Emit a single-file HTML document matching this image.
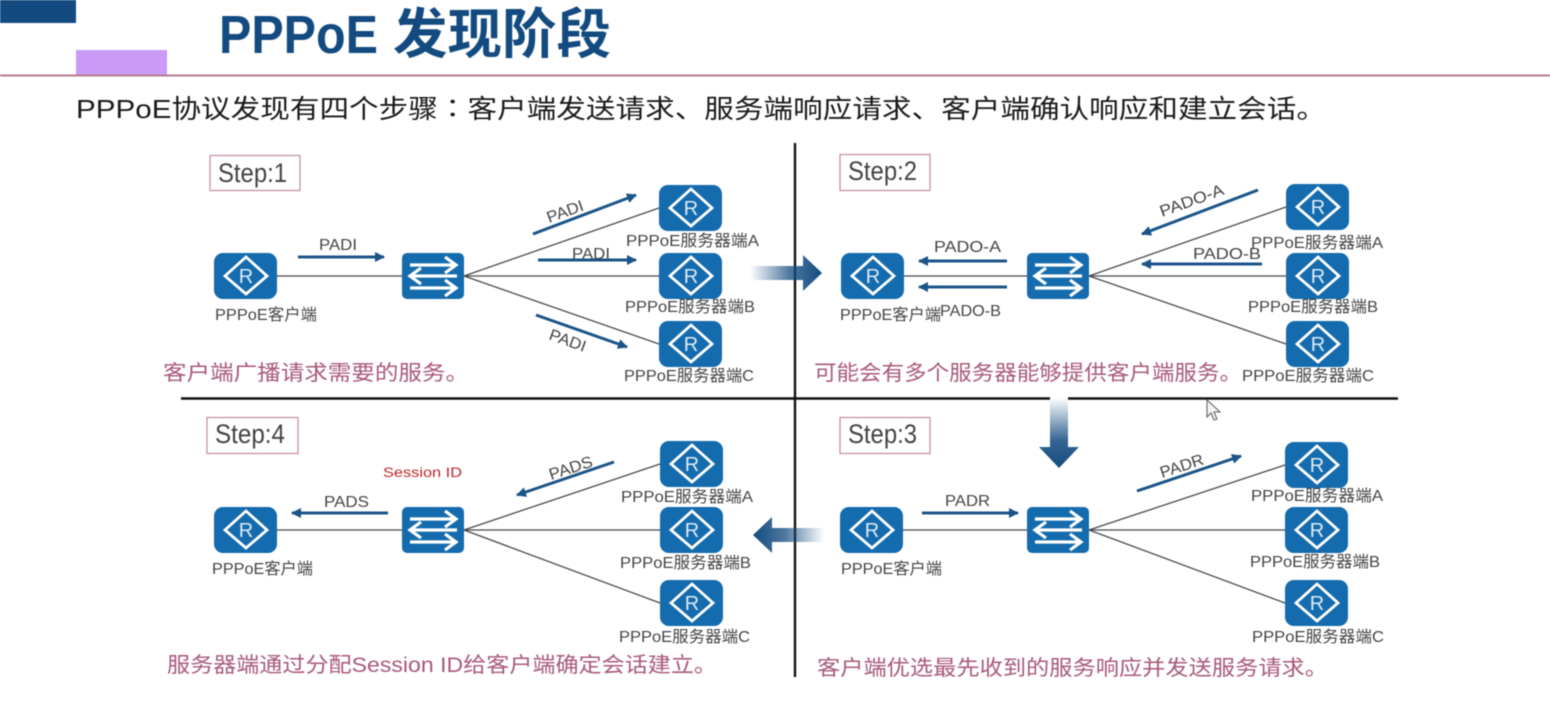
<!DOCTYPE html>
<html><head><meta charset="utf-8"><title>PPPoE 发现阶段</title>
<style>
html,body{margin:0;padding:0;background:#fff;width:1550px;height:710px;overflow:hidden}
svg{display:block;filter:blur(.6px)}
text{font-family:"Liberation Sans","Noto Sans CJK SC",sans-serif}
.l{font-size:16px;fill:#444}
.p{font-size:16px;fill:#444}
.d{font-size:21px;fill:#a8597c}
.s{font-size:27px;fill:#444}
.c{stroke:#4a4a4a;stroke-width:1.3;fill:none}
.a{stroke:#1a5488;stroke-width:3;fill:none;marker-end:url(#ah)}
.x{stroke:#111;stroke-width:2.4}
.b{fill:#fff;stroke:#c48a9e;stroke-width:1.2}
</style></head><body>
<svg width="1550" height="710" viewBox="0 0 1550 710" xmlns="http://www.w3.org/2000/svg">
<defs>
<marker id="ah" markerUnits="userSpaceOnUse" markerWidth="11" markerHeight="11" refX="9" refY="5" orient="auto"><path d="M0 0L10 5L0 10Z" fill="#1a5488"/></marker>
<linearGradient id="gr" x1="0" x2="1" y1="0" y2="0"><stop offset="0" stop-color="#134b80" stop-opacity="0"/><stop offset=".55" stop-color="#134b80" stop-opacity=".75"/><stop offset="1" stop-color="#134b80"/></linearGradient>
<linearGradient id="gl" x1="1" x2="0" y1="0" y2="0"><stop offset="0" stop-color="#134b80" stop-opacity="0"/><stop offset=".55" stop-color="#134b80" stop-opacity=".75"/><stop offset="1" stop-color="#134b80"/></linearGradient>
<linearGradient id="gd" x1="0" x2="0" y1="0" y2="1"><stop offset="0" stop-color="#134b80" stop-opacity="0"/><stop offset=".6" stop-color="#134b80" stop-opacity=".85"/><stop offset="1" stop-color="#134b80"/></linearGradient>
<symbol id="r" width="63" height="46" viewBox="0 0 63 46">
<rect width="63" height="46" rx="9" fill="#146bad"/>
<path d="M32 4L53 23L32 41L11 23Z" fill="none" stroke="#fff" stroke-width="2.8"/>
<text x="32" y="30" text-anchor="middle" style="font-size:20px;fill:#dcebf6">R</text>
</symbol>
<symbol id="w" width="62" height="46" viewBox="0 0 62 46">
<rect width="62" height="46" rx="5" fill="#146bad"/>
<g fill="none" stroke="#fff" stroke-width="3.2">
<path d="M8 12H52M43 4L54 12L43 20"/>
<path d="M55 23H10M19 15L8 23L19 31"/>
<path d="M8 35H52M43 27L54 35L43 43"/>
</g>
</symbol>
</defs>

<rect width="1550" height="710" fill="#fff"/>
<rect x="0" y="0" width="76" height="23" fill="#134b80"/>
<rect x="76" y="50" width="91" height="26" fill="#c99bf5"/>
<rect x="0" y="74.5" width="1550" height="2" fill="#b67a90"/>
<text x="219" y="53" textLength="159" lengthAdjust="spacingAndGlyphs" style="font-size:54px;font-weight:700;fill:#134b80">PPPoE</text>
<text x="393" y="53" textLength="218" lengthAdjust="spacingAndGlyphs" style="font-size:54px;font-weight:700;fill:#134b80">发现阶段</text>
<text x="76" y="118" textLength="1250" lengthAdjust="spacingAndGlyphs" style="font-size:26px;fill:#1a1a1a">PPPoE协议发现有四个步骤<tspan style="font-family:'Noto Sans CJK TC',sans-serif">：</tspan>客户端发送请求、服务端响应请求、客户端确认响应和建立会话。</text>

<!-- dividers -->
<line class="x" x1="795" y1="143" x2="795" y2="677"/>
<line class="x" x1="181" y1="398.500" x2="1050" y2="398.500"/>
<line class="x" x1="1068" y1="398.500" x2="1398" y2="398.500"/>

<!-- step boxes -->
<rect class="b" x="210" y="155.500" width="90" height="35"/><text class="s" x="218" y="182" textLength="69" lengthAdjust="spacingAndGlyphs">Step:1</text>
<rect class="b" x="840" y="154.500" width="90" height="36"/><text class="s" x="848" y="180" textLength="69" lengthAdjust="spacingAndGlyphs">Step:2</text>
<rect class="b" x="840" y="417.500" width="90" height="36"/><text class="s" x="848" y="443" textLength="69" lengthAdjust="spacingAndGlyphs">Step:3</text>
<rect class="b" x="207" y="417.500" width="91" height="36"/><text class="s" x="215" y="443" textLength="70" lengthAdjust="spacingAndGlyphs">Step:4</text>

<!-- connectors -->
<g class="c">
<path d="M277 276H402M464 276L659 208M464 276H659M464 276L659 344"/>
<path d="M903 276H1027M1089 276L1286 207M1089 276H1286M1089 276L1286 344"/>
<path d="M902 530H1027M1089 530L1285 465M1089 530H1285M1089 530L1285 603"/>
<path d="M277 530H402M464 530L660 464M464 530H660M464 530L660 603"/>
</g>

<!-- Step 1 -->
<use href="#r" x="214" y="253"/><use href="#w" x="402" y="253"/>
<use href="#r" x="659" y="185"/><use href="#r" x="659" y="253"/><use href="#r" x="659" y="321"/>
<text class="l" x="215" y="320" textLength="102" lengthAdjust="spacingAndGlyphs">PPPoE客户端</text>
<text class="l" x="626" y="246" textLength="133" lengthAdjust="spacingAndGlyphs">PPPoE服务器端A</text>
<text class="l" x="625" y="312" textLength="130" lengthAdjust="spacingAndGlyphs">PPPoE服务器端B</text>
<text class="l" x="624" y="381" textLength="130" lengthAdjust="spacingAndGlyphs">PPPoE服务器端C</text>
<path class="a" d="M298 257H384"/><text class="p" x="319" y="250" textLength="38" lengthAdjust="spacingAndGlyphs">PADI</text>
<path class="a" d="M533 234L636 195"/><text class="p" transform="translate(549 223) rotate(-20)" textLength="38" lengthAdjust="spacingAndGlyphs">PADI</text>
<path class="a" d="M538 260H636"/><text class="p" x="572" y="259" textLength="38" lengthAdjust="spacingAndGlyphs">PADI</text>
<path class="a" d="M536 315L627 347"/><text class="p" transform="translate(548 339) rotate(20)" textLength="38" lengthAdjust="spacingAndGlyphs">PADI</text>
<text class="d" x="163" y="380" textLength="306" lengthAdjust="spacingAndGlyphs">客户端广播请求需要的服务。</text>

<!-- Step 2 -->
<use href="#r" x="841" y="253"/><use href="#w" x="1027" y="253"/>
<use href="#r" x="1286" y="184"/><use href="#r" x="1286" y="253"/><use href="#r" x="1286" y="321"/>
<text class="l" x="840" y="320" textLength="101" lengthAdjust="spacingAndGlyphs">PPPoE客户端</text>
<text class="l" x="1251" y="248" textLength="132" lengthAdjust="spacingAndGlyphs">PPPoE服务器端A</text>
<text class="l" x="1248" y="312" textLength="130" lengthAdjust="spacingAndGlyphs">PPPoE服务器端B</text>
<text class="l" x="1242" y="381" textLength="132" lengthAdjust="spacingAndGlyphs">PPPoE服务器端C</text>
<path class="a" d="M1007 261H919"/><text class="p" x="934" y="252" textLength="67" lengthAdjust="spacingAndGlyphs">PADO-A</text>
<path class="a" d="M1007 287H919"/><text class="p" x="940" y="316" textLength="61" lengthAdjust="spacingAndGlyphs">PADO-B</text>
<path class="a" d="M1258 190L1142 234"/><text class="p" transform="translate(1162 217) rotate(-20)" textLength="67" lengthAdjust="spacingAndGlyphs">PADO-A</text>
<path class="a" d="M1262 264H1142"/><text class="p" x="1193" y="259" textLength="68" lengthAdjust="spacingAndGlyphs">PADO-B</text>
<text class="d" x="814" y="380" textLength="428" lengthAdjust="spacingAndGlyphs">可能会有多个服务器能够提供客户端服务。</text>

<!-- Step 3 -->
<use href="#r" x="840" y="507"/><use href="#w" x="1027" y="507"/>
<use href="#r" x="1285" y="442"/><use href="#r" x="1285" y="507"/><use href="#r" x="1285" y="580"/>
<text class="l" x="841" y="574" textLength="101" lengthAdjust="spacingAndGlyphs">PPPoE客户端</text>
<text class="l" x="1251" y="501" textLength="132" lengthAdjust="spacingAndGlyphs">PPPoE服务器端A</text>
<text class="l" x="1250" y="567" textLength="130" lengthAdjust="spacingAndGlyphs">PPPoE服务器端B</text>
<text class="l" x="1252" y="642" textLength="132" lengthAdjust="spacingAndGlyphs">PPPoE服务器端C</text>
<path class="a" d="M922 513H1018"/><text class="p" x="945" y="506" textLength="45" lengthAdjust="spacingAndGlyphs">PADR</text>
<path class="a" d="M1137 491L1241 456"/><text class="p" transform="translate(1162 478) rotate(-18)" textLength="45" lengthAdjust="spacingAndGlyphs">PADR</text>
<text class="d" x="817" y="675" textLength="511" lengthAdjust="spacingAndGlyphs">客户端优选最先收到的服务响应并发送服务请求。</text>

<!-- Step 4 -->
<use href="#r" x="214" y="507"/><use href="#w" x="402" y="507"/>
<use href="#r" x="660" y="441"/><use href="#r" x="660" y="507"/><use href="#r" x="660" y="580"/>
<text class="l" x="212" y="574" textLength="101" lengthAdjust="spacingAndGlyphs">PPPoE客户端</text>
<text class="l" x="621" y="502" textLength="132" lengthAdjust="spacingAndGlyphs">PPPoE服务器端A</text>
<text class="l" x="620" y="568" textLength="131" lengthAdjust="spacingAndGlyphs">PPPoE服务器端B</text>
<text class="l" x="619" y="642" textLength="131" lengthAdjust="spacingAndGlyphs">PPPoE服务器端C</text>
<path class="a" d="M388 513H292"/><text class="p" x="324" y="507" textLength="45" lengthAdjust="spacingAndGlyphs">PADS</text>
<path class="a" d="M614 462L517 495"/><text class="p" transform="translate(551 480) rotate(-18)" textLength="45" lengthAdjust="spacingAndGlyphs">PADS</text>
<text x="383" y="477" textLength="79" lengthAdjust="spacingAndGlyphs" style="font-size:14px;fill:#c0272d">Session ID</text>
<text class="d" x="167" y="672" textLength="550" lengthAdjust="spacingAndGlyphs">服务器端通过分配Session ID给客户端确定会话建立。</text>

<!-- flow arrows -->
<path d="M750 266H803V255L822 273L803 291V280H750Z" fill="url(#gr)"/>
<path d="M1050 398H1068V447H1079L1059 468L1039 447H1050Z" fill="url(#gd)"/>
<path d="M824 528H772V517L753 535L772 553V542H824Z" fill="url(#gl)"/>

<!-- cursor -->
<path d="M1207 400V417L1211 413L1214 420L1217 419L1214 412L1220 412Z" fill="#f4f4f4" stroke="#666" stroke-width="1.1"/>
</svg>
</body></html>
